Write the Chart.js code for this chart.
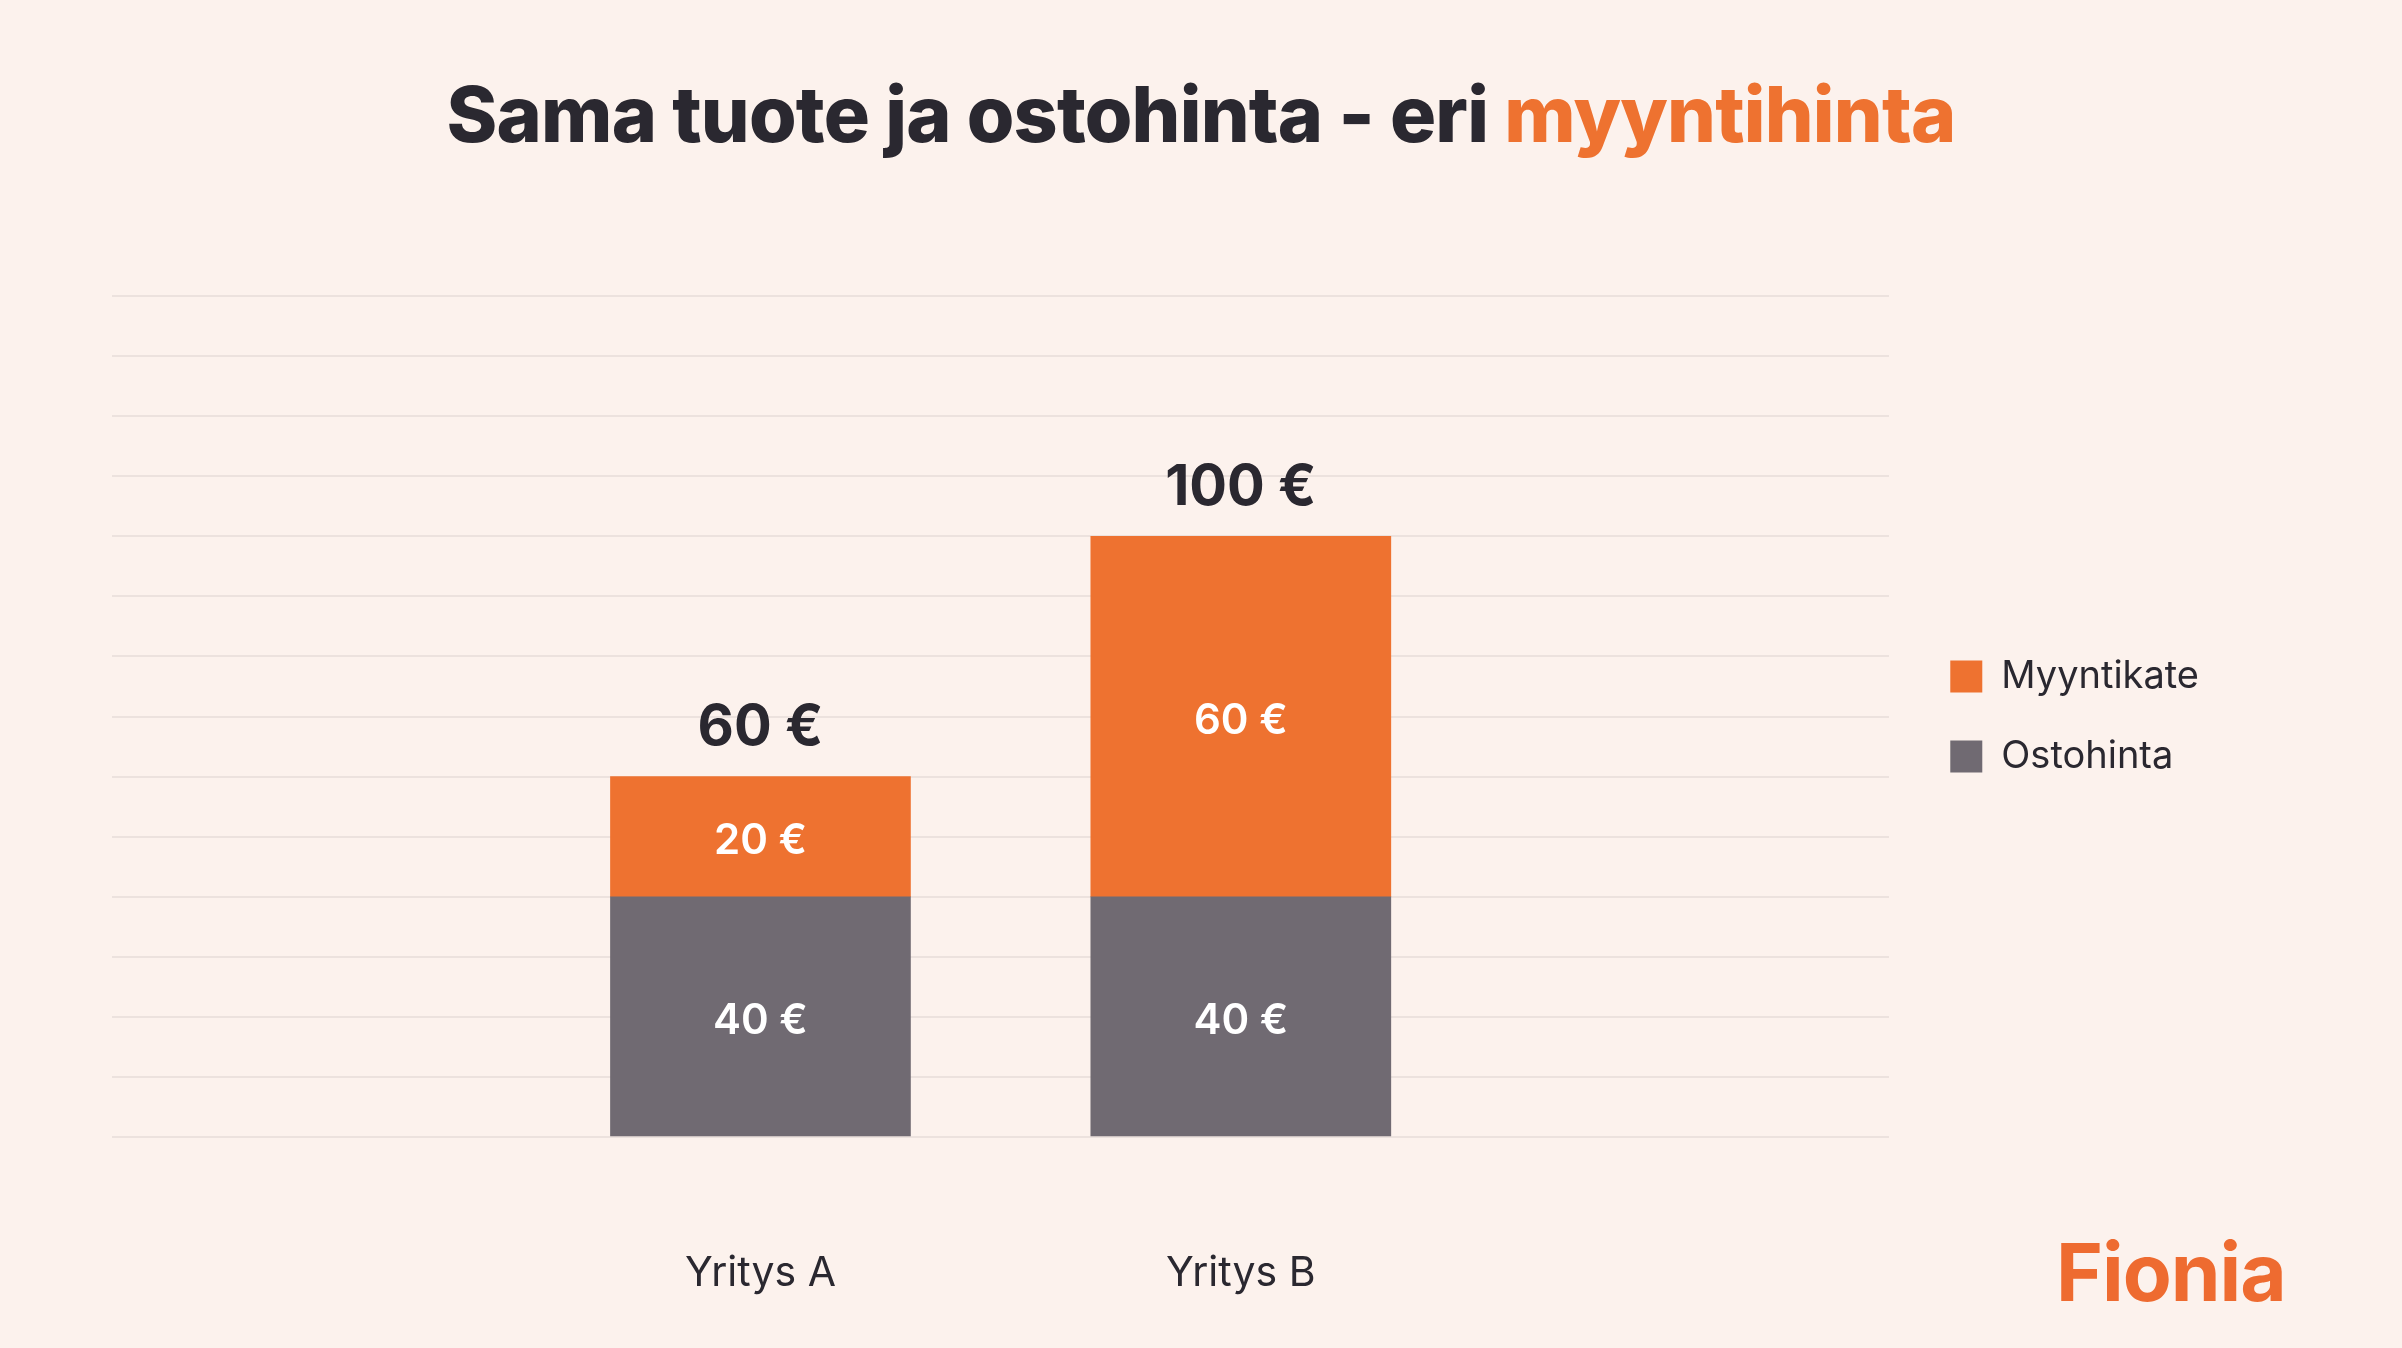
<!DOCTYPE html>
<html>
<head>
<meta charset="utf-8">
<title>Sama tuote ja ostohinta - eri myyntihinta</title>
<script src="https://cdn.jsdelivr.net/npm/chart.js@4.4.1/dist/chart.umd.min.js"></script>
<style>
  html, body { margin: 0; padding: 0; background: #fcf2ed; width: 2402px; height: 1348px; overflow: hidden; font-family: Inter, sans-serif; }
  #title { position: absolute; left: 0; top: 76px; width: 2402px; text-align: center; font-size: 77px; font-weight: 800; line-height: 1; color: #2a2830; letter-spacing: -0.8px; }
  #title span { color: #ee7230; }
  #logo { position: absolute; left: 2056px; top: 1232px; font-size: 80px; font-weight: 700; line-height: 1; color: #ee6b30; letter-spacing: -1px; }
  #chart { position: absolute; left: 0; top: 0; }
</style>
</head>
<body>
<div id="title">Sama tuote ja ostohinta - eri <span>myyntihinta</span></div>
<canvas id="chart" width="2402" height="1348"></canvas>
<div id="logo">Fionia</div>
<script>
var categories = ["Yritys A", "Yritys B"];
var ostohinta = [40, 40];
var myyntikate = [20, 60];
var seriesNames = ["Ostohinta", "Myyntikate"];
var yMax = 140;
var yStep = 10;

var orange = "#ee7230";
var grey = "#706a72";
var dark = "#2a2830";

function points(values) {
	return values.map(function (v, i) { return { x: i + 1, y: v }; });
}

// value labels inside the segments and the totals above each bar
var barLabels = {
	id: "barLabels",
	afterDatasetsDraw: function (chart) {
		var ctx = chart.ctx;
		ctx.save();
		ctx.textAlign = "center";
		ctx.textBaseline = "middle";
		chart.data.datasets.forEach(function (ds, di) {
			chart.getDatasetMeta(di).data.forEach(function (bar, i) {
				ctx.fillStyle = "#ffffff";
				ctx.font = "600 42px Inter";
				ctx.fillText(ds.data[i].y + " €", bar.x, (bar.y + bar.base) / 2 + 5);
			});
		});
		var top = chart.getDatasetMeta(chart.data.datasets.length - 1);
		top.data.forEach(function (bar, i) {
			ctx.fillStyle = dark;
			ctx.font = "700 56px Inter";
			ctx.fillText((ostohinta[i] + myyntikate[i]) + " €", bar.x, bar.y - 48);
		});
		ctx.restore();
	}
};

var chart = new Chart(document.getElementById("chart"), {
	type: "bar",
	data: {
		datasets: [
			{ label: seriesNames[0], data: points(ostohinta), backgroundColor: grey, barThickness: 300 },
			{ label: seriesNames[1], data: points(myyntikate), backgroundColor: orange, barThickness: 300 }
		]
	},
	options: {
		responsive: false,
		animation: false,
		layout: { padding: { left: 112, top: 296, right: 193, bottom: 51 } },
		scales: {
			x: {
				type: "linear",
				stacked: true,
				offset: false,
				min: -0.35,
				max: 3.35,
				grid: { display: false, drawTicks: false },
				border: { display: false },
				afterBuildTicks: function (scale) {
					scale.ticks = categories.map(function (c, i) { return { value: i + 1 }; });
				},
				afterFit: function (scale) { scale.height = 160; },
				ticks: {
					padding: 112,
					color: dark,
					font: { family: "Inter", size: 41 },
					callback: function (v) { return categories[v - 1]; }
				}
			},
			y: {
				position: "right",
				stacked: true,
				min: 0,
				max: yMax,
				afterFit: function (scale) { scale.width = 19; },
				grid: { color: "#ece2de", lineWidth: 2, drawTicks: false },
				border: { display: false },
				ticks: { display: false, stepSize: yStep }
			}
		},
		plugins: {
			title: { display: false },
			tooltip: { enabled: false },
			legend: {
				position: "right",
				align: "center",
				fullSize: false,
				reverse: true,
				labels: {
					boxWidth: 32,
					boxHeight: 32,
					padding: 42,
					color: dark,
					font: { family: "Inter", size: 38 }
				}
			}
		}
	},
	plugins: [barLabels]
});
</script>
</body>
</html>
